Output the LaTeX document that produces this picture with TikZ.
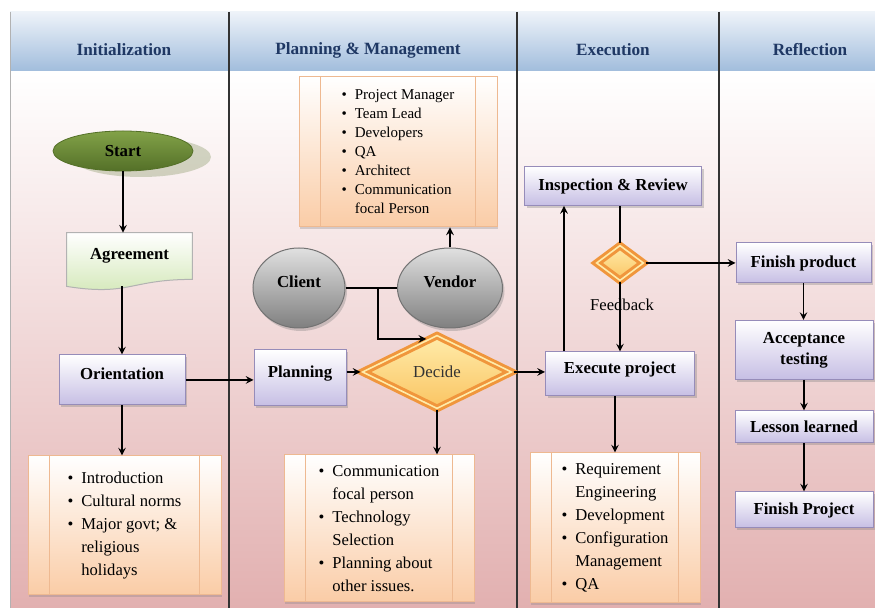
\documentclass[tikz,border=0pt]{standalone}
\usepackage{fontspec}
\setmainfont{Liberation Serif}
\usetikzlibrary{shapes.geometric,shadows,backgrounds,calc}

\definecolor{hdrtext}{RGB}{31,56,100}
\definecolor{hdrtop}{RGB}{238,243,249}
\definecolor{hdrbot}{RGB}{160,188,220}
\definecolor{pinkbot}{RGB}{226,176,176}
\definecolor{lavbot}{RGB}{198,190,228}
\definecolor{lavline}{RGB}{150,140,185}
\definecolor{peach}{RGB}{250,204,166}
\definecolor{peachline}{RGB}{238,185,145}
\definecolor{leaftop}{RGB}{130,162,72}
\definecolor{leafbot}{RGB}{84,112,40}
\definecolor{paleleaf}{RGB}{210,231,182}
\definecolor{ambr}{RGB}{240,150,60}
\definecolor{amblt}{RGB}{255,236,170}
\definecolor{ambdk}{RGB}{250,196,98}

\newcommand{\boxfont}{\fontsize{8.4}{10.5}\selectfont\bfseries}
\newcommand{\lstfont}{\fontsize{8.3}{11.5}\selectfont}
\newcommand{\memfont}{\fontsize{7.5}{9.5}\selectfont}
\newcommand{\itm}{\textbullet\hspace{4pt}}
\newcommand{\nxt}{\hphantom{\textbullet}\hspace{4pt}}

\tikzset{
  arr/.style={->, >=stealth, line width=0.7pt},
  link/.style={line width=0.7pt},
  lane/.style={draw=black!80, line width=0.6pt},
  hdr/.style={font=\fontsize{8.6}{10}\selectfont\bfseries, text=hdrtext},
  proc/.style={rectangle, draw=lavline, line width=0.5pt, top color=white, bottom color=lavbot,
    font=\boxfont, align=center, inner sep=1pt,
    drop shadow={shadow xshift=1pt, shadow yshift=-1.2pt, opacity=0.35}},
  lifted/.style={text height=1.6ex, text depth=1.6ex},
  listbox/.style={rectangle, draw=peachline, line width=0.5pt, top color=white, bottom color=peach,
    font=\lstfont, align=left, inner sep=2pt,
    drop shadow={shadow xshift=0.6pt, shadow yshift=-1.2pt, opacity=0.3}},
  sepline/.style={draw=peachline, line width=0.5pt},
  startnode/.style={ellipse, draw=leafbot, top color=leaftop, bottom color=leafbot, font=\boxfont,
    drop shadow={shadow xshift=9pt, shadow yshift=-3pt, fill=leafbot, opacity=0.25}},
  docfill/.style={draw=black!30, line width=0.5pt, top color=white, bottom color=paleleaf},
  gball/.style={ellipse, draw=black!55, line width=0.5pt, top color=black!12, bottom color=black!50,
    font=\boxfont, drop shadow={shadow xshift=1pt, shadow yshift=-1.5pt, opacity=0.35}},
  choice/.style={diamond, aspect=2, draw=ambr, line width=1.5pt, double=amblt, double distance=0.8pt,
    top color=amblt, bottom color=ambdk, inner sep=0pt, text=black!80, font=\fontsize{8.4}{10}\selectfont}
}

\begin{document}
\begin{tikzpicture}[x=0.5pt, y=-0.5pt]
\useasboundingbox (0,0) rectangle (875,608);

% swim lanes
\begin{scope}[on background layer]
  \shade[top color=hdrtop, bottom color=hdrbot] (10,12) rectangle (875,72);
  \shade[top color=white, bottom color=pinkbot] (10,72) rectangle (875,608);
  \draw[black!30, line width=0.4pt] (10,12) -- (10,608);
  \foreach \x in {229,517,719} \draw[lane] (\x,12) -- (\x,608);
\end{scope}

\node[hdr] (hinit) at (124,50) {Initialization};
\node[hdr] (hplan) at (368,50) {Planning \& Management};
\node[hdr] (hexec) at (613,50) {Execution};
\node[hdr] (hrefl) at (810,50) {Reflection};

% initialization
\node[startnode, minimum width=70pt, minimum height=20pt] (start) at (123,151) {Start};
\node[rectangle, font=\boxfont, lifted, minimum width=62.5pt, minimum height=26.5pt] (agr) at (129.5,259.5) {Agreement};
\begin{scope}[on background layer]
  \shadedraw[docfill] (agr.north west) -- (agr.north east) -- ($(agr.south east)+(0,-7)$)
    .. controls ($(agr.south)+(0,-7)$) and ($(agr.south)+(0,10)$) .. (agr.south west) -- cycle;
\end{scope}
\node[proc, lifted, minimum width=63pt, minimum height=25pt] (orient) at (122,380) {Orientation};
\node[listbox, minimum width=96.5pt, minimum height=69.5pt] (lst1) at (124.5,525.5)
  {\itm Introduction\\ \itm Cultural norms\\ \itm Major govt; \&\\ \nxt religious\\ \nxt holidays};

% planning & management
\node[listbox, font=\memfont, minimum width=99pt, minimum height=75pt] (plst) at (398,152)
  {\itm Project Manager\\ \itm Team Lead\\ \itm Developers\\ \itm QA\\ \itm Architect\\
   \itm Communication\\ \nxt focal Person};
\node[gball, lifted, minimum width=46pt, minimum height=40pt] (client) at (299,288) {Client};
\node[gball, lifted, minimum width=52.5pt, minimum height=40pt] (vendor) at (450,288) {Vendor};
\coordinate (jn) at (378,288);
\node[proc, lifted, minimum width=46pt, minimum height=28pt] (plan) at (300,378) {Planning};
\node[choice, minimum width=75pt, minimum height=37pt] (decide) at (437,372) {Decide};
\node[listbox, minimum width=95pt, minimum height=73.5pt] (lst2) at (379,528.5)
  {\itm Communication\\ \nxt focal person\\ \itm Technology\\ \nxt Selection\\
   \itm Planning about\\ \nxt other issues.};

% execution
\node[proc, minimum width=88.5pt, minimum height=19.5pt] (insp) at (613,186) {Inspection \& Review};
\node[choice, minimum width=24pt, minimum height=18pt] (fb) at (620,263) {};
\node[font=\lstfont] (fbtxt) at (622,305) {Feedback};
\node[proc, lifted, minimum width=74.5pt, minimum height=22pt] (exec) at (620,374) {Execute project};
\node[listbox, minimum width=85pt, minimum height=75pt] (lst3) at (615,528)
  {\itm Requirement\\ \nxt Engineering\\ \itm Development\\ \itm Configuration\\
   \nxt Management\\ \itm QA};

% reflection
\node[proc, minimum width=67.5pt, minimum height=20pt] (fprod) at (803.5,263) {Finish product};
\node[proc, minimum width=69pt, minimum height=29.5pt] (acc) at (804,350) {Acceptance\\testing};
\node[proc, minimum width=69pt, minimum height=16pt] (lesson) at (804,427) {Lesson learned};
\node[proc, minimum width=69pt, minimum height=18pt] (fproj) at (804,510) {Finish Project};

% inner rules of the list boxes
\foreach \b in {lst1,lst2,lst3,plst} {
  \draw[sepline] ([xshift=11pt]\b.north west) -- ([xshift=11pt]\b.south west);
  \draw[sepline] ([xshift=-11pt]\b.north east) -- ([xshift=-11pt]\b.south east);
}

% connectors
\draw[arr] (start) -- (start |- agr.north);
\draw[arr] (orient.north |- agr.south) -- (orient.north);
\draw[arr] (orient.east) -- (orient.east -| plan.west);
\draw[arr] (orient) -- (orient |- lst1.north);
\draw[arr] (plan.east |- decide) -- (decide.west);
\draw[arr] (decide.east) -- (decide.east -| exec.west);
\draw[arr] (decide) -- (decide |- lst2.north);
\draw[link] (client) -- (vendor);
\draw[arr] (jn) |- (decide.108);
\draw[arr] (vendor) -- (vendor |- plst.south);
\draw[arr] ([xshift=9.5pt]exec.north west) -- ([xshift=9.5pt]exec.north west |- insp.south);
\draw[link] (fb |- insp.south) -- (fb);
\draw[arr] (fb) -- (fb |- exec.north);
\draw[arr] (fb) -- (fb -| fprod.west);
\draw[arr] (lst3 |- exec.south) -- (lst3.north);
\draw[arr] (fprod) -- (fprod |- acc.north);
\draw[arr] (acc) -- (acc |- lesson.north);
\draw[arr] (lesson) -- (lesson |- fproj.north);
\end{tikzpicture}
\end{document}
